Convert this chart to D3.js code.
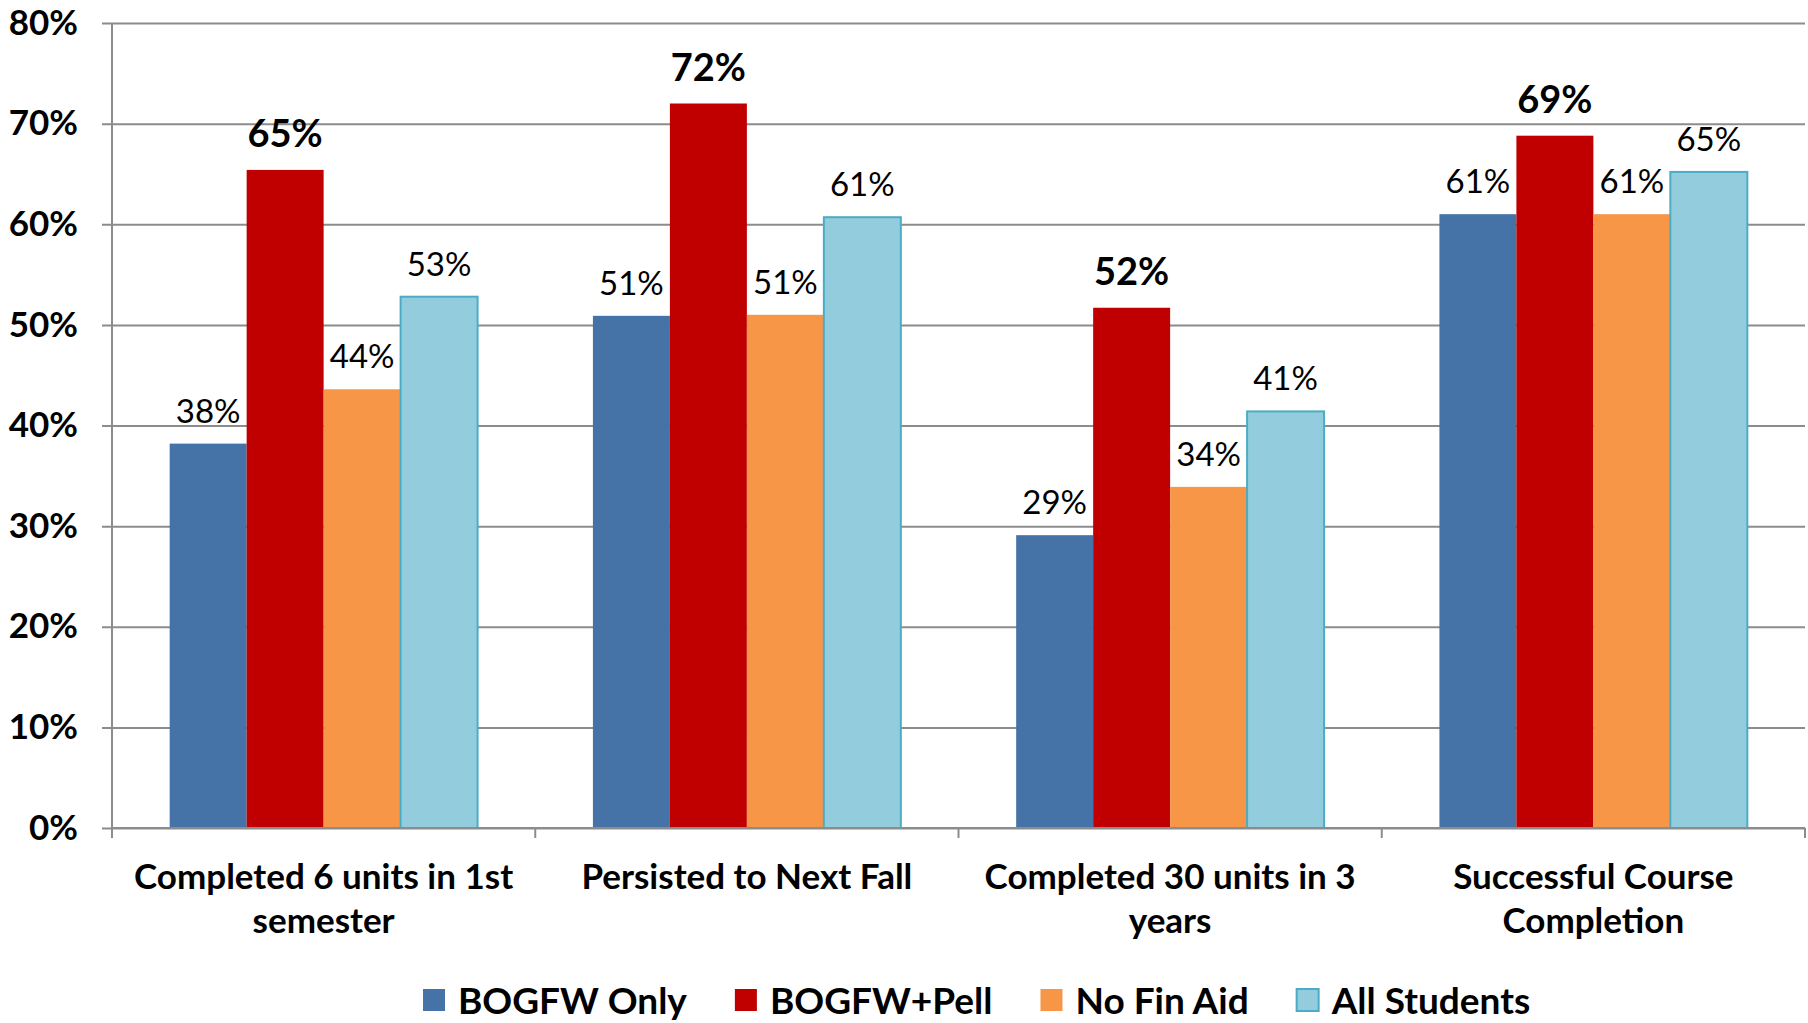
<!DOCTYPE html>
<html>
<head>
<meta charset="utf-8">
<script src="https://cdn.jsdelivr.net/npm/d3@7"></script>
<style>
  body { margin: 0; background: #fff; }
  svg text { font-family: Lato, "Open Sans", sans-serif; fill: #000; }
</style>
</head>
<body>
<div id="container"></div>
<script>
// Data
const categories = [
  ['Completed 6 units in 1st', 'semester'],
  ['Persisted to Next Fall'],
  ['Completed 30 units in 3', 'years'],
  ['Successful Course', 'Completion']
];
const seriesNames = ['BOGFW Only', 'BOGFW+Pell', 'No Fin Aid', 'All Students'];
const bogfwOnly = [0.382, 0.509, 0.291, 0.610];
const bogfwPell = [0.654, 0.720, 0.517, 0.688];
const noFinAid = [0.436, 0.510, 0.339, 0.610];
const allStudents = [0.528, 0.607, 0.414, 0.652];
const yTicks = [0, 0.1, 0.2, 0.3, 0.4, 0.5, 0.6, 0.7, 0.8];

const seriesValues = [bogfwOnly, bogfwPell, noFinAid, allStudents];
const fills = ['#4572A7', '#C00000', '#F79646', '#93CDDD'];
const strokes = ['none', 'none', 'none', '#4BACC6'];

const width = 1808, height = 1023;
const margin = { top: 23, right: 3, bottom: 195, left: 112 };

const svg = d3.select('#container').append('svg')
  .attr('width', width)
  .attr('height', height);

// Scales
const x0 = d3.scaleBand()
  .domain(d3.range(categories.length))
  .range([margin.left, width - margin.right])
  .paddingInner(0.2725)
  .paddingOuter(0.13625);
const x1 = d3.scaleBand()
  .domain(d3.range(seriesNames.length))
  .range([0, x0.bandwidth()]);
const y = d3.scaleLinear().domain([0, 0.8]).range([height - margin.bottom, margin.top]);
const pct = d3.format('.0%');

// Gridlines + y tick labels
const yAxis = svg.append('g')
  .attr('transform', `translate(${margin.left},0)`)
  .call(d3.axisLeft(y).tickValues(yTicks).tickFormat(pct)
    .tickSize(-(width - margin.right - margin.left)).tickPadding(34));
yAxis.select('.domain').remove();
yAxis.selectAll('.tick line')
  .attr('x1', -10)
  .attr('stroke', '#8c8c8c')
  .attr('stroke-width', 2);
yAxis.selectAll('.tick text')
  .style('font-size', '35px')
  .style('font-weight', 'bold');

// Bars
const groups = svg.append('g').selectAll('g')
  .data(categories)
  .join('g')
  .attr('transform', (d, i) => `translate(${x0(i)},0)`);

groups.selectAll('rect')
  .data((d, i) => seriesValues.map((vals, s) => ({ s, v: vals[i] })))
  .join('rect')
  .attr('x', d => x1(d.s))
  .attr('y', d => y(d.v))
  .attr('width', x1.bandwidth())
  .attr('height', d => y(0) - y(d.v))
  .attr('fill', d => fills[d.s])
  .attr('stroke', d => strokes[d.s])
  .attr('stroke-width', 2);

groups.selectAll('text.val')
  .data((d, i) => seriesValues.map((vals, s) => ({ s, v: vals[i] })))
  .join('text')
  .attr('class', 'val')
  .attr('x', d => x1(d.s) + x1.bandwidth() / 2)
  .attr('y', d => y(d.v) - (d.s === 1 ? 23 : 21))
  .attr('text-anchor', 'middle')
  .style('font-size', d => d.s === 1 ? '38px' : '33px')
  .style('font-weight', d => d.s === 1 ? 'bold' : 'normal')
  .text(d => pct(d.v));

// Axis lines
const axisColor = '#8c8c8c';
svg.append('line')
  .attr('x1', margin.left).attr('x2', margin.left)
  .attr('y1', margin.top).attr('y2', y(0) + 10)
  .attr('stroke', axisColor).attr('stroke-width', 2);
svg.append('line')
  .attr('x1', margin.left).attr('x2', width - margin.right)
  .attr('y1', y(0)).attr('y2', y(0))
  .attr('stroke', axisColor).attr('stroke-width', 2);
// tick marks between categories
svg.append('g').selectAll('line')
  .data(d3.range(1, categories.length + 1))
  .join('line')
  .attr('x1', i => x0.range()[0] + i * x0.step())
  .attr('x2', i => x0.range()[0] + i * x0.step())
  .attr('y1', y(0)).attr('y2', y(0) + 10)
  .attr('stroke', axisColor).attr('stroke-width', 2);

// Category labels
const catLabels = svg.append('g').selectAll('text')
  .data(categories)
  .join('text')
  .attr('x', (d, i) => x0(i) + x0.bandwidth() / 2)
  .attr('y', height - margin.bottom + 61)
  .attr('text-anchor', 'middle')
  .style('font-size', '35px')
  .style('font-weight', 'bold');
catLabels.selectAll('tspan')
  .data(d => d)
  .join('tspan')
  .attr('x', function () { return d3.select(this.parentNode).attr('x'); })
  .attr('dy', (d, i) => i === 0 ? 0 : 44)
  .text(d => d);

// Legend
const legend = svg.append('g').attr('transform', `translate(0,${height - 9})`);
let lx = 423;
seriesNames.forEach((name, s) => {
  legend.append('rect')
    .attr('x', lx).attr('y', -25)
    .attr('width', 22).attr('height', 22)
    .attr('fill', fills[s])
    .attr('stroke', strokes[s]).attr('stroke-width', 2);
  const t = legend.append('text')
    .attr('x', lx + 35).attr('y', 0)
    .style('font-size', '37px')
    .style('font-weight', 'bold')
    .text(name);
  lx += 35 + t.node().getComputedTextLength() + 48;
});
</script>
</body>
</html>
